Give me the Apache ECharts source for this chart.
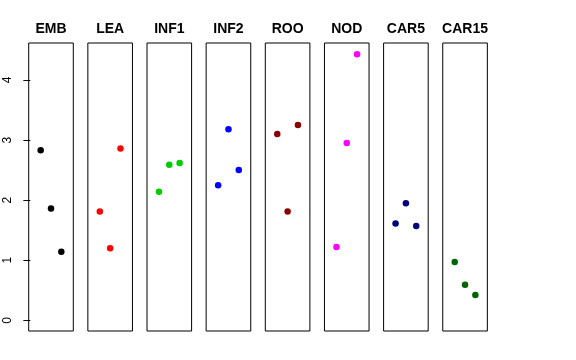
<!DOCTYPE html>
<html>
<head>
<meta charset="utf-8">
<script src="https://cdn.jsdelivr.net/npm/echarts@6/dist/echarts.min.js"></script>
<style>html,body{margin:0;padding:0;background:#fff}#c{width:576px;height:360px}</style>
</head>
<body>
<div id="c"></div>
<script>
const categories = ["EMB","LEA","INF1","INF2","ROO","NOD","CAR5","CAR15"];
const xPositions = [1, 2, 3];
const EMB   = [2.83, 1.86, 1.14];
const LEA   = [1.81, 1.20, 2.86];
const INF1  = [2.14, 2.59, 2.62];
const INF2  = [2.25, 3.18, 2.50];
const ROO   = [3.10, 1.81, 3.25];
const NOD   = [1.22, 2.95, 4.43];
const CAR5  = [1.61, 1.95, 1.57];
const CAR15 = [0.97, 0.59, 0.42];
const yTicks = [0, 1, 2, 3, 4];

const seriesValues = [EMB, LEA, INF1, INF2, ROO, NOD, CAR5, CAR15];
const colors = ["#000000","#FF0000","#00CD00","#0000FF","#8B0000","#FF00FF","#000080","#006400"];

const font = '"Liberation Sans", Arial, Helvetica, sans-serif';
const panelLeft = 28.7, panelStep = 59.15, panelW = 44.6, panelTop = 43, panelH = 288;
const yMin = -0.178, yMax = 4.616, xMin = -0.16, xMax = 4.16;

const grids = [], xAxes = [], yAxes = [], series = [], titles = [];
categories.forEach((cat, i) => {
  const left = panelLeft + i * panelStep;
  grids.push({left: left, top: panelTop, width: panelW, height: panelH, show: true,
    borderColor: '#000', borderWidth: 1, backgroundColor: 'transparent'});
  xAxes.push({gridIndex: i, type: 'value', min: xMin, max: xMax, show: false});
  yAxes.push({gridIndex: i, type: 'value', min: yMin, max: yMax, show: i === 0,
    axisLine: {show: false},
    splitLine: {show: false},
    axisTick: {show: true, length: 7, lineStyle: {color: '#000', width: 1}, customValues: yTicks},
    axisLabel: {show: true, rotate: 90, margin: 15, color: '#000', fontSize: 12, fontFamily: font, customValues: yTicks}
  });
  series.push({type: 'scatter', xAxisIndex: i, yAxisIndex: i, symbol: 'circle', symbolSize: 6.5,
    itemStyle: {color: colors[i], opacity: 1},
    data: xPositions.map((x, k) => [x, seriesValues[i][k]]),
    silent: true, animation: false});
  titles.push({text: cat, left: left + panelW / 2, top: 22.5, textAlign: 'center', padding: 0,
    textStyle: {fontSize: 14, fontWeight: 'bold', color: '#000', fontFamily: font}});
});

const chart = echarts.init(document.getElementById('c'), null, {renderer: 'canvas'});
chart.setOption({
  animation: false,
  backgroundColor: '#fff',
  title: titles,
  grid: grids,
  xAxis: xAxes,
  yAxis: yAxes,
  series: series
});
</script>
</body>
</html>
